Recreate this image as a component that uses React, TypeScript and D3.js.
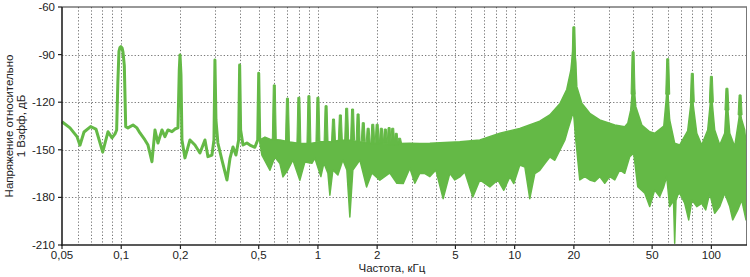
import React from 'react';
import * as d3 from 'd3';

const W = 750;
const H = 277;

// Low-frequency trace (kHz, dB)
const lowFreq = [0.05, 0.0549, 0.0596, 0.0617, 0.0647, 0.0699, 0.0744, 0.0805, 0.0857, 0.0898, 0.093, 0.0948, 0.0961, 0.0974, 0.0985, 0.0997, 0.101, 0.1021, 0.1037, 0.1054, 0.1082, 0.1148, 0.1202, 0.1245, 0.132, 0.1368, 0.1433, 0.1485, 0.1537, 0.1611, 0.1668, 0.1728, 0.1811, 0.1876, 0.1943, 0.1973, 0.199, 0.2013, 0.2036, 0.2109, 0.2236, 0.237, 0.2513, 0.2665, 0.276, 0.2892, 0.2961, 0.2995, 0.3031, 0.31, 0.325, 0.3447, 0.357, 0.37, 0.383, 0.3953, 0.4, 0.4046, 0.416, 0.4355, 0.451, 0.478, 0.4942, 0.5, 0.506];
const lowDb = [-132.3, -136.2, -141.7, -147.1, -138.8, -135.4, -136.9, -151.4, -138.6, -142.5, -140, -137.5, -108, -88, -85.6, -85, -85.8, -88.4, -97, -135.4, -136.2, -134.4, -136.2, -139.4, -143.8, -147, -157.5, -137.5, -145.7, -137.5, -141.7, -137.5, -138.6, -136.9, -136.2, -99.7, -90.2, -102.8, -143.8, -155.1, -143.8, -147, -152, -143.8, -154.3, -153.3, -143.8, -93.4, -131.2, -145.7, -156.4, -169, -155.6, -148.2, -153.3, -143.8, -96.5, -137.5, -147, -145.7, -147, -148.4, -143.8, -101.8, -143.8];

// Dense part: upper envelope
const bandTopFreq = [0.506, 0.538, 0.57, 0.641, 0.72, 0.809, 0.91, 1.023, 1.15, 1.293, 1.453, 1.634, 1.836, 2.064, 2.321, 2.609, 2.933, 3.297, 3.707, 4.167, 5.265, 6.654, 8.41, 10.62, 13.42, 15.09, 16.97, 18.4, 19.3, 19.75, 20.0, 20.45, 20.7, 21.94, 24.1, 27.08, 32.28, 36.28, 37.58, 38.9, 39.7, 40.0, 40.6, 41.3, 44.3, 48.6, 51.5, 57.3, 58.96, 60.0, 60.4, 61.4, 65.1, 69.0, 75.8, 78.5, 80.0, 80.9, 84.3, 89.3, 95.8, 98.5, 100, 101.3, 104, 110.3, 116.9, 118.6, 120, 121.4, 124, 131.4, 138.2, 140, 141.8, 147.7, 150];
const bandTopDb = [-143.8, -142, -143.3, -143.8, -145, -146, -146, -145, -145, -144, -144, -145, -146, -146, -147, -146, -145.9, -146, -145.9, -145.5, -144.9, -143.8, -139.5, -136.5, -132, -128, -121, -112, -100, -88, -82, -95, -110.2, -120.7, -127, -131.2, -134.4, -135.4, -133.3, -125, -112, -100, -112, -122.8, -134.4, -138.6, -139.6, -135, -118, -105, -118, -131.2, -145.9, -147, -138, -122, -110, -122, -139.6, -147, -137.5, -122, -112, -122, -137.5, -147, -139.6, -125, -118, -125, -139.6, -148, -130, -122, -130, -137.5, -145.7];

// Dense part: lower envelope
const bandBottomFreq = [0.506, 0.519, 0.57, 0.604, 0.641, 0.664, 0.703, 0.746, 0.809, 0.858, 0.932, 0.965, 1.035, 1.072, 1.124, 1.15, 1.191, 1.263, 1.339, 1.403, 1.453, 1.505, 1.634, 1.767, 1.88, 2.064, 2.321, 2.519, 2.712, 2.933, 3.11, 3.297, 3.496, 3.707, 3.976, 4.33, 4.683, 4.965, 5.265, 5.58, 6.13, 6.654, 7.48, 8.21, 8.81, 9.45, 9.9, 10.62, 11.27, 11.94, 12.66, 13.42, 14.23, 15.09, 16.0, 16.97, 17.99, 18.62, 19.3, 19.75, 20.0, 20.45, 20.7, 21.43, 22.73, 24.1, 25.54, 27.08, 28.71, 30.44, 32.28, 34.22, 36.28, 38.47, 40.3, 42.25, 45.9, 48.6, 51.5, 54.6, 57.3, 59.3, 61.4, 64.2, 65.1, 66.1, 67.5, 69.0, 73.2, 76.7, 79.7, 84.3, 89.3, 93.6, 98.1, 104, 110.3, 116.9, 124, 128.4, 136.2, 142.6, 150];
const bandBottomDb = [-145, -153.3, -162.9, -154.5, -158.7, -167.1, -162.7, -156.4, -169.2, -157.7, -158.5, -155.3, -166.9, -158.3, -164.8, -178.6, -162.7, -165.9, -156.4, -162.7, -192.3, -162.7, -156.4, -173.4, -164.6, -169.2, -164.6, -171.1, -171.3, -161.6, -171.1, -164.8, -165, -166.9, -162.7, -180.8, -164.8, -169, -167.1, -164, -179.7, -169, -173.4, -169, -175.5, -167.1, -171.3, -159.6, -160.8, -180.8, -165, -162.9, -158.7, -154.5, -156.6, -150.3, -144, -137.5, -131.2, -126.8, -129, -143.8, -150, -169, -166.9, -169, -170, -166.9, -171.1, -166.9, -169, -162.7, -164.8, -154.3, -152.2, -173.2, -177.4, -185.8, -175.3, -179.5, -173.2, -166.9, -185.8, -182, -208.9, -182, -178.5, -177.4, -183.7, -194.2, -181.6, -185.8, -183.7, -187.9, -177.4, -190, -185.8, -177.4, -185.8, -194.2, -187.9, -181.6, -194.2];

// Harmonic spikes rising out of the dense part
const harmonicFreq = [0.6, 0.7, 0.8, 0.9, 1.0, 1.1, 1.2, 1.3, 1.4, 1.5, 1.6, 1.7, 1.8, 1.9, 2.0, 2.1, 2.2, 2.3, 2.4, 2.5, 2.6, 20, 40, 60, 80, 100, 120, 140];
const harmonicDb = [-109.1, -117.5, -116.9, -115.9, -116.9, -122.2, -130.6, -128, -123.8, -124.3, -127.4, -132.9, -136.4, -133.9, -133.9, -136.4, -136.9, -136, -136.4, -139.6, -142.7, -72.5, -88.2, -92.6, -101.8, -103.7, -111.2, -115.4];
const harmonicBase = [-144, -145, -146, -146, -145, -145, -145, -144, -144, -144, -145, -145, -146, -146, -146, -146, -146, -147, -147, -147, -146, -100, -115, -115, -120, -120, -125, -128];

const xTickValues = [0.05, 0.1, 0.2, 0.5, 1, 2, 5, 10, 20, 50, 100];
const xTickLabels = ['0,05', '0,1', '0,2', '0,5', '1', '2', '5', '10', '20', '50', '100'];
const yTickValues = [-60, -90, -120, -150, -180, -210];
const yTickLabels = ['-60', '-90', '-120', '-150', '-180', '-210'];

const GREEN = '#64b946';
const FONT = '"Liberation Sans", Arial, sans-serif';

export default function App() {
  const left = 62, right = 746, top = 7, bottom = 245;
  const x = d3.scaleLog().domain([0.05, 150]).range([left, right]);
  const y = d3.scaleLinear().domain([-210, -60]).range([bottom, top]);
  const line = d3.line<[number, number]>().x(d => x(d[0])).y(d => y(d[1]));

  const lowPts: [number, number][] = lowFreq.map((f, i) => [f, lowDb[i]]);
  const topPts: [number, number][] = bandTopFreq.map((f, i) => [f, bandTopDb[i]]);
  const botPts: [number, number][] = bandBottomFreq.map((f, i) => [f, bandBottomDb[i]]).reverse() as [number, number][];
  const bandPath = line([...topPts, ...botPts]) + 'Z';

  const gridX = x.ticks().filter(f => f > 0.051 && f < 149);
  const gridY = yTickValues.filter(v => v > -210 && v < -60);

  return (
    <div style={{ position: 'absolute', left: 0, top: 0 }}>
      <svg width={W} height={H} style={{ display: 'block', background: '#fff' }}>
        <rect x={0} y={0} width={W} height={H} fill="#fff" />
        {/* grid */}
        <g stroke="#7a7a7a" strokeWidth={1} strokeDasharray="1.3,2">
          {gridX.map((f, i) => (
            <line key={'gx' + i} x1={Math.round(x(f)) + 0.5} x2={Math.round(x(f)) + 0.5} y1={top} y2={bottom} />
          ))}
          {gridY.map((v, i) => (
            <line key={'gy' + i} x1={left} x2={right} y1={Math.round(y(v)) + 0.5} y2={Math.round(y(v)) + 0.5} />
          ))}
        </g>
        {/* data */}
        <path d={bandPath} fill={GREEN} stroke={GREEN} strokeWidth={1.5} strokeLinejoin="round" />
        {harmonicFreq.map((f, i) => {
          const cx = x(f);
          const yt = y(harmonicDb[i]);
          const yb = y(harmonicBase[i]);
          const d = `M${cx - 2},${yb}L${cx - 1},${yt}L${cx + 1},${yt}L${cx + 2},${yb}Z`;
          return <path key={'h' + i} d={d} fill={GREEN} stroke={GREEN} strokeWidth={1} strokeLinejoin="round" />;
        })}
        <path d={line(lowPts) || ''} fill="none" stroke={GREEN} strokeWidth={3} strokeLinejoin="round" />
        {/* frame */}
        <line x1={left} x2={right + 1} y1={top} y2={top} stroke="#333" strokeWidth={1.2} />
        <line x1={right + 0.5} x2={right + 0.5} y1={top} y2={bottom} stroke="#777" strokeWidth={1} />
        <line x1={left} x2={left} y1={top} y2={bottom + 1} stroke="#222" strokeWidth={1.6} />
        <line x1={left - 1} x2={right + 1} y1={bottom} y2={bottom} stroke="#222" strokeWidth={1.6} />
        {/* y ticks */}
        {yTickValues.map((v, i) => (
          <g key={'yt' + i}>
            <line x1={left - 4} x2={left} y1={y(v)} y2={y(v)} stroke="#222" strokeWidth={1.2} />
            <text x={left - 7} y={y(v) + 4} textAnchor="end" fontSize={11.5} fontFamily={FONT} fill="#222">{yTickLabels[i]}</text>
          </g>
        ))}
        {/* x ticks */}
        {xTickValues.map((v, i) => (
          <g key={'xt' + i}>
            <line x1={x(v)} x2={x(v)} y1={bottom} y2={bottom + 4} stroke="#222" strokeWidth={1.2} />
            <text x={x(v)} y={bottom + 14} textAnchor="middle" fontSize={11.5} fontFamily={FONT} fill="#222">{xTickLabels[i]}</text>
          </g>
        ))}
        <text x={392} y={272} textAnchor="middle" fontSize={11.5} fontFamily={FONT} fill="#222">Частота, кГц</text>
        <text transform={`translate(13,${(top + bottom) / 2}) rotate(-90)`} textAnchor="middle" fontSize={11.5} fontFamily={FONT} fill="#222">
          <tspan x={0} dy={0}>Напряжение относительно</tspan>
          <tspan x={0} dy={11.5}>1 Вэфф, дБ</tspan>
        </text>
      </svg>
    </div>
  );
}
